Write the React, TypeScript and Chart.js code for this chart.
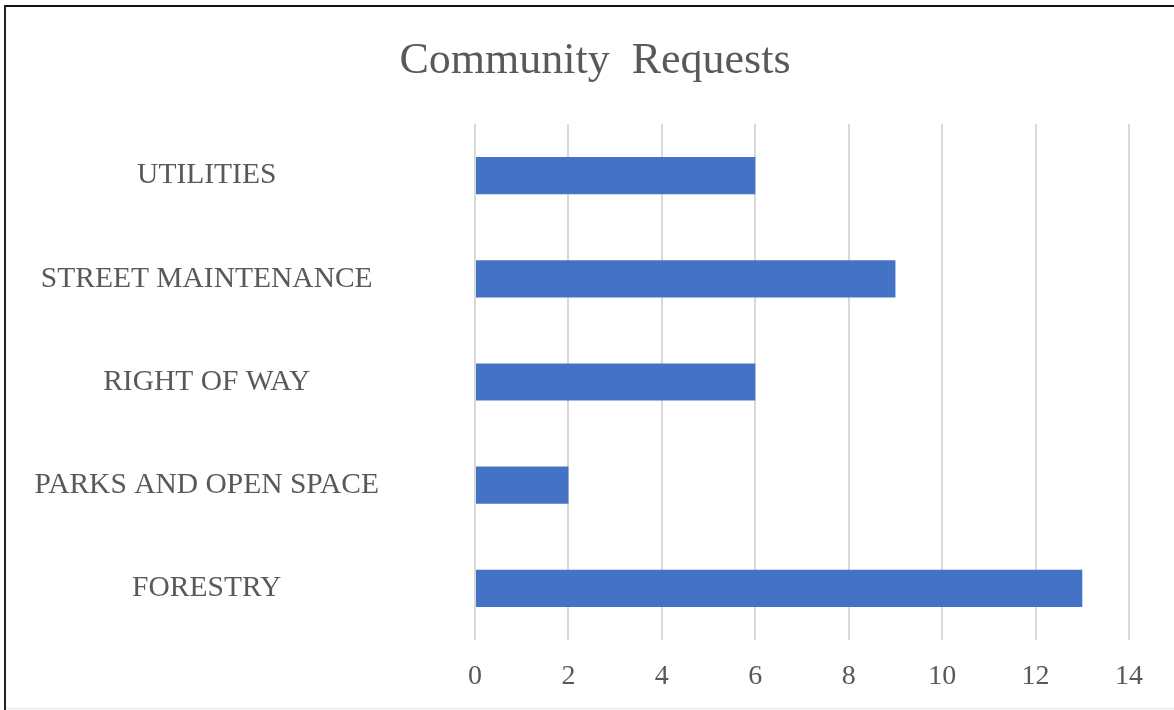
import React, { useEffect, useRef } from "react";
import { Chart, registerables } from "chart.js";

Chart.register(...registerables);

const categories = ["UTILITIES", "STREET MAINTENANCE", "RIGHT OF WAY", "PARKS AND OPEN SPACE", "FORESTRY"];
const requestCounts = [6, 9, 6, 2, 13];
const titleText = "Community  Requests";
const xMin = 0;
const xMax = 14;
const xStep = 2;

const FONT = "'Times New Roman', 'Liberation Serif', serif";

const titlePlugin = {
  id: "offsetTitle",
  afterDraw(chart: any) {
    const ctx = chart.ctx;
    ctx.save();
    ctx.font = `normal 44px ${FONT}`;
    ctx.fillStyle = "#595959";
    ctx.textAlign = "center";
    ctx.textBaseline = "alphabetic";
    ctx.fillText(titleText, chart.width / 2 + 8, 73);
    ctx.restore();
  },
};

export default function App() {
  const ref = useRef<HTMLCanvasElement | null>(null);

  useEffect(() => {
    document.body.style.margin = "0";
    const ctx = ref.current!.getContext("2d")!;
    const chart = new Chart(ctx, {
      type: "bar",
      data: {
        labels: categories,
        datasets: [
          {
            data: requestCounts,
            backgroundColor: "#4472C4",
            barPercentage: 0.36,
            categoryPercentage: 1,
          },
        ],
      },
      options: {
        indexAxis: "y",
        animation: false,
        responsive: false,
        maintainAspectRatio: false,
        devicePixelRatio: 1,
        layout: { padding: { left: 10, right: 45, top: 124, bottom: 0 } },
        plugins: {
          legend: { display: false },
          tooltip: { enabled: false },
          title: { display: false },
        },
        scales: {
          x: {
            min: xMin,
            max: xMax,
            ticks: {
              stepSize: xStep,
              color: "#595959",
              font: { family: FONT, size: 28 },
              padding: 20,
            },
            grid: { color: "#d9d9d9", lineWidth: 2, drawTicks: false },
            border: { display: false },
            afterFit: (scale: any) => {
              scale.height = 70;
            },
          },
          y: {
            ticks: {
              color: "#595959",
              font: { family: FONT, size: 29.5 },
              crossAlign: "center",
              padding: 96,
            },
            grid: { display: false, drawTicks: false },
            border: { display: false },
            afterFit: (scale: any) => {
              scale.width = 465;
              scale.paddingTop = 0;
              scale.paddingBottom = 0;
            },
          },
        },
      },
      plugins: [titlePlugin],
    });
    return () => chart.destroy();
  }, []);

  return (
    <div style={{ position: "relative", width: 1174, height: 710, background: "#fff", overflow: "hidden" }}>
      <canvas ref={ref} width={1174} height={710} style={{ display: "block" }} />
      <div style={{ position: "absolute", left: 4, top: 5, right: 0, height: 0, borderTop: "2px solid #111" }} />
      <div style={{ position: "absolute", left: 4, top: 5, bottom: 0, width: 0, borderLeft: "2px solid #222" }} />
      <div style={{ position: "absolute", left: 6, right: 0, top: 708, height: 0, borderTop: "1px solid #e6e6e6" }} />
    </div>
  );
}
